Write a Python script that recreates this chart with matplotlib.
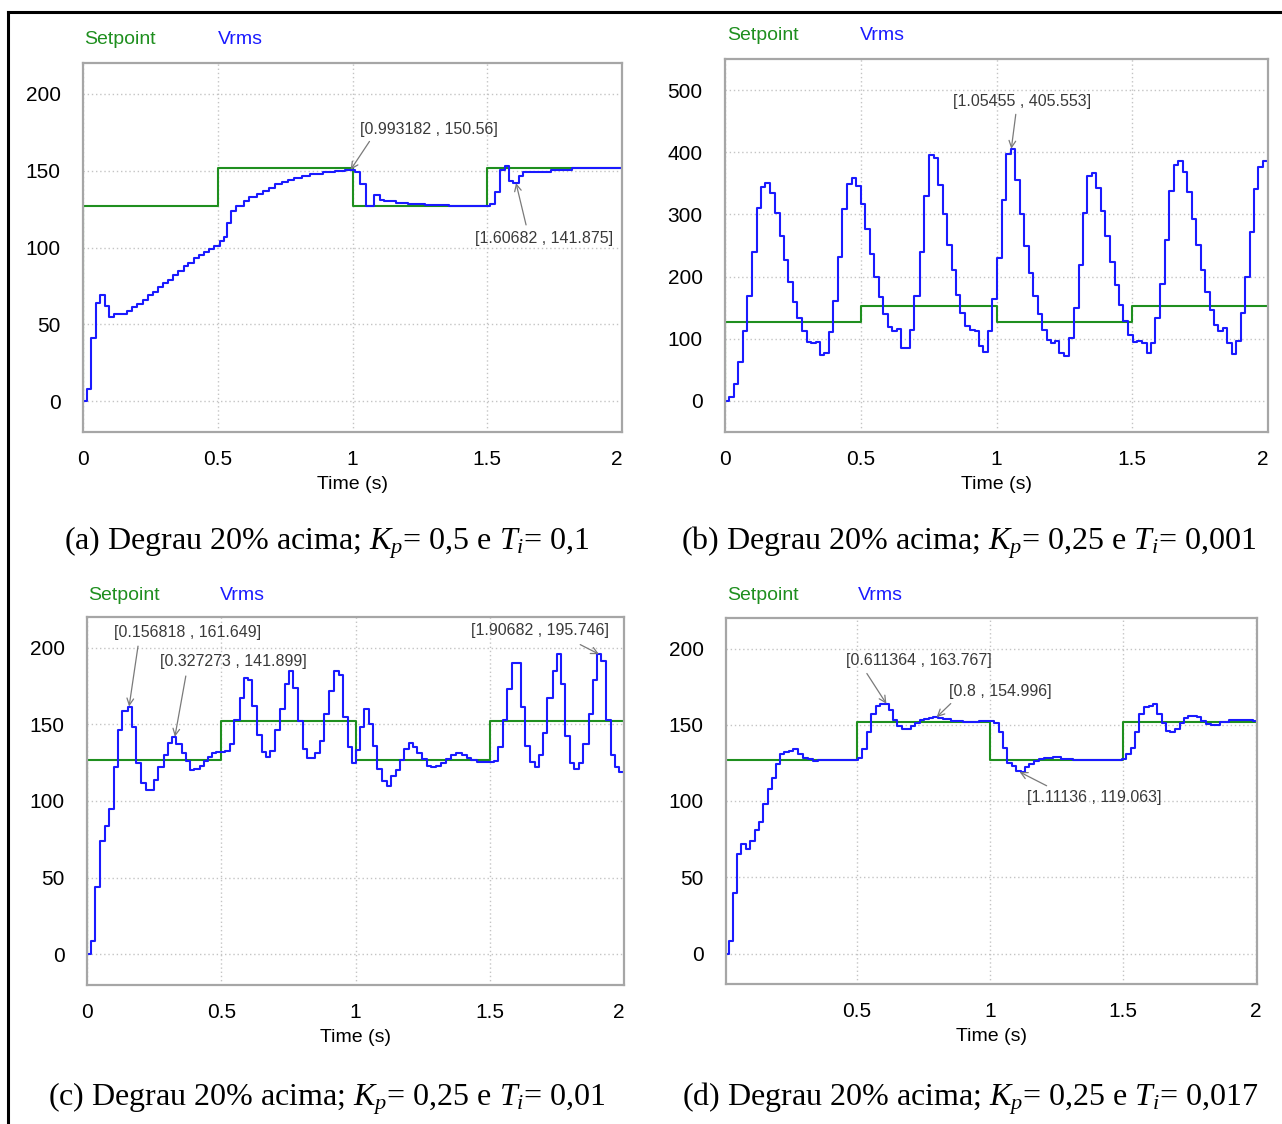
import matplotlib
matplotlib.use("Agg")
import matplotlib.pyplot as plt
from matplotlib.lines import Line2D

plt.rcParams['font.family'] = ['Liberation Sans', 'DejaVu Sans']
plt.rcParams['mathtext.fontset'] = 'custom'
plt.rcParams['mathtext.rm'] = 'Liberation Serif'
plt.rcParams['mathtext.it'] = 'Liberation Serif:italic'

# ---------------- data ----------------
setpoint_t = [0.0, 0.0, 0.5, 1.0, 1.5, 2.0]
setpoint_v = [0, 127, 152, 127, 152, 152]
setpoint_t_d = [0.0, 0.5, 1.0, 1.5, 2.01]
setpoint_v_d = [127, 152, 127, 152, 152]

# (a) Kp=0.5, Ti=0.1
a_t = [0.0, 0.015, 0.030, 0.0485, 0.064, 0.082, 0.097, 0.115, 0.164, 0.183, 0.202, 0.221, 0.240,
       0.259, 0.277, 0.297, 0.315, 0.335, 0.353, 0.373, 0.391, 0.411, 0.429, 0.449, 0.467, 0.487,
       0.509, 0.522, 0.534, 0.549, 0.567, 0.597, 0.616, 0.646, 0.669, 0.691, 0.714, 0.737, 0.760,
       0.782, 0.813, 0.843, 0.889, 0.934, 0.972, 1.010, 1.028, 1.049, 1.080, 1.101, 1.116, 1.161,
       1.207, 1.268, 1.359, 1.510, 1.528, 1.548, 1.566, 1.581, 1.597, 1.616, 1.632, 1.662, 1.738,
       1.813, 1.904, 2.0]
a_v = [0, 8, 41, 64, 69, 62, 55, 57, 59, 61, 63, 66, 69,
       71, 74, 77, 79, 82, 85, 88, 90, 93, 95, 97, 99, 101,
       104, 107, 116, 124, 127, 130, 133, 135, 137, 139, 141, 142.5, 144,
       145.5, 146.5, 148, 148.8, 149.5, 150.5, 149, 141, 127, 134, 131, 130, 129,
       128, 127.8, 127.2, 128, 136, 150.5, 153, 143, 141.9, 146.5, 149, 149.3, 150.5,
       151.5, 152, 152]

# (b) Kp=0.25, Ti=0.001
b_t = [0.0, 0.015, 0.033, 0.048, 0.066, 0.081, 0.101, 0.118, 0.133, 0.148, 0.166, 0.184, 0.202,
       0.217, 0.232, 0.250, 0.265, 0.284, 0.302, 0.317, 0.335, 0.350, 0.365, 0.383, 0.398, 0.416,
       0.431, 0.449, 0.468, 0.483, 0.501, 0.516, 0.534, 0.549, 0.567, 0.582, 0.600, 0.615, 0.633,
       0.649, 0.682, 0.697, 0.718, 0.733, 0.751, 0.769, 0.784, 0.802, 0.817, 0.836, 0.851, 0.866,
       0.884, 0.902, 0.920, 0.935, 0.950, 0.968, 0.983, 1.002, 1.020, 1.035, 1.053, 1.068, 1.086,
       1.101, 1.119, 1.134, 1.152, 1.167, 1.186, 1.201, 1.216, 1.231, 1.249, 1.267, 1.285, 1.303,
       1.318, 1.333, 1.351, 1.367, 1.385, 1.400, 1.418, 1.436, 1.451, 1.466, 1.484, 1.502, 1.517,
       1.535, 1.554, 1.569, 1.584, 1.602, 1.620, 1.635, 1.653, 1.668, 1.686, 1.701, 1.719, 1.735,
       1.753, 1.768, 1.786, 1.801, 1.816, 1.834, 1.849, 1.867, 1.882, 1.900, 1.916, 1.934, 1.949,
       1.964, 1.982, 2.0]
b_v = [0, 7, 28, 63, 112, 169, 239, 310, 344, 350, 335, 302, 265,
       226, 191, 159, 133, 112, 95, 93, 95, 74, 77, 111, 161, 231,
       308, 349, 359, 345, 316, 277, 237, 199, 167, 140, 119, 113, 116,
       85, 114, 169, 240, 329, 395, 391, 348, 300, 250, 210, 171, 141,
       121, 114, 112, 89, 79, 112, 164, 230, 323, 397, 405.5, 355, 301,
       249, 206, 168, 140, 114, 98, 93, 97, 77, 73, 102, 150, 219,
       302, 361, 367, 343, 306, 265, 223, 187, 155, 128, 106, 94, 97,
       93, 77, 93, 133, 188, 259, 337, 379, 386, 368, 336, 293, 250,
       211, 176, 147, 122, 112, 118, 93, 76, 97, 141, 200, 271, 341,
       376, 386, 386]

# (c) Kp=0.25, Ti=0.01
c_t = [0.0, 0.014, 0.030, 0.049, 0.067, 0.082, 0.099, 0.117, 0.132, 0.151, 0.166, 0.184, 0.201,
       0.218, 0.250, 0.266, 0.285, 0.300, 0.315, 0.333, 0.352, 0.368, 0.385, 0.400, 0.419, 0.434,
       0.452, 0.467, 0.482, 0.513, 0.531, 0.549, 0.568, 0.583, 0.598, 0.616, 0.635, 0.650, 0.668,
       0.683, 0.702, 0.720, 0.738, 0.753, 0.769, 0.787, 0.805, 0.820, 0.848, 0.866, 0.884, 0.903,
       0.921, 0.939, 0.954, 0.973, 0.988, 1.003, 1.018, 1.033, 1.049, 1.064, 1.079, 1.097, 1.116,
       1.131, 1.149, 1.164, 1.180, 1.198, 1.213, 1.228, 1.247, 1.265, 1.283, 1.301, 1.320, 1.338,
       1.356, 1.374, 1.396, 1.414, 1.432, 1.451, 1.481, 1.514, 1.530, 1.548, 1.566, 1.584, 1.615,
       1.633, 1.651, 1.670, 1.685, 1.700, 1.715, 1.734, 1.749, 1.764, 1.782, 1.798, 1.813, 1.831,
       1.849, 1.868, 1.883, 1.898, 1.913, 1.932, 1.950, 1.965, 1.982, 2.0]
c_v = [0, 9, 44, 74, 84, 95, 122, 146, 159, 161.6, 148, 125, 112,
       107, 114, 122, 130, 138, 141.9, 137, 131, 126, 120, 121, 123, 126,
       129, 131, 132, 132.6, 137, 153, 167, 180, 179, 162, 143, 132, 129,
       132.6, 146, 160, 176, 185, 174, 152, 134, 128, 131.5, 139, 156.5, 172,
       185, 182, 155, 135, 125, 133, 148, 160, 150, 136, 121, 113, 110,
       116, 120, 127, 134, 137.6, 135, 131, 127.6, 123, 122, 123, 125, 127.6,
       130, 131, 130, 128, 126.5, 125.7, 125.4, 126, 135, 153, 173, 190, 161,
       136, 125.4, 122, 130, 144.6, 167, 185, 196, 176, 142.4, 124.6, 121, 125,
       137.4, 156.5, 179, 195.7, 191, 153, 130, 122, 119, 119]

# (d) Kp=0.25, Ti=0.017
d_t = [0.009, 0.021, 0.037, 0.052, 0.067, 0.083, 0.098, 0.117, 0.132, 0.147, 0.166, 0.181, 0.196,
       0.212, 0.227, 0.245, 0.261, 0.279, 0.298, 0.316, 0.334, 0.356, 0.454, 0.485, 0.503, 0.518,
       0.540, 0.555, 0.571, 0.586, 0.620, 0.635, 0.650, 0.669, 0.702, 0.718, 0.736, 0.752, 0.770,
       0.785, 0.804, 0.822, 0.853, 0.899, 0.960, 1.015, 1.034, 1.049, 1.064, 1.083, 1.098, 1.117,
       1.132, 1.147, 1.166, 1.184, 1.202, 1.236, 1.267, 1.313, 1.405, 1.497, 1.512, 1.528, 1.546,
       1.561, 1.580, 1.598, 1.613, 1.629, 1.647, 1.663, 1.678, 1.696, 1.712, 1.727, 1.745, 1.761,
       1.779, 1.794, 1.813, 1.831, 1.865, 1.896, 1.942, 1.988, 2.01]
d_v = [0, 8, 40, 65, 72, 68.6, 74, 81, 86, 98, 108, 115, 124,
       131, 132, 132.7, 134, 131, 128, 127.5, 126, 126.6, 127, 126.6, 128, 134,
       145, 157, 162, 163.8, 159.5, 153, 149, 147.4, 149, 151, 153, 154, 154.7,
       155, 154.7, 153.6, 152.5, 151.8, 152.5, 151.4, 145, 135, 125, 122.7, 120, 119,
       122, 124.4, 126, 127.7, 128.4, 128.8, 127.3, 126.6, 127, 127.7, 131, 135, 145,
       157, 161.4, 162.5, 163.8, 157, 151, 146, 145, 147, 151, 154.7, 155.5, 156,
       155, 152.5, 150.7, 150, 151.8, 153, 152.9, 152.5, 152.5]

# annotations: (label, point, arrow tail, text centre)
a_ann = [("[0.993182 , 150.56]", (0.993182, 150.56), (1.063, 169), (1.283, 177)),
         ("[1.60682 , 141.875]", (1.60682, 141.875), (1.644, 114.7), (1.71, 106))]
b_ann = [("[1.05455 , 405.553]", (1.05455, 405.553), (1.071, 461), (1.094, 481))]
c_ann = [("[0.156818 , 161.649]", (0.156818, 161.649), (0.19, 201), (0.376, 210)),
         ("[0.327273 , 141.899]", (0.327273, 141.899), (0.368, 181.5), (0.545, 191)),
         ("[1.90682 , 195.746]", (1.90682, 195.746), (1.837, 202), (1.688, 211))]
d_ann = [("[0.611364 , 163.767]", (0.611364, 163.767), (0.538, 183.6), (0.735, 192)),
         ("[0.8 , 154.996]", (0.8, 154.996), (0.853, 163.9), (1.038, 172)),
         ("[1.11136 , 119.063]", (1.11136, 119.063), (1.213, 110), (1.39, 102.5))]

captions = [r"(a) Degrau 20% acima; $K_p$= 0,5 e $T_i$= 0,1",
            r"(b) Degrau 20% acima; $K_p$= 0,25 e $T_i$= 0,001",
            r"(c) Degrau 20% acima; $K_p$= 0,25 e $T_i$= 0,01",
            r"(d) Degrau 20% acima; $K_p$= 0,25 e $T_i$= 0,017"]

# ---------------- drawing ----------------
W, H = 1282, 1124
fig = plt.figure(figsize=(W / 100, H / 100), dpi=100)

GREEN = '#1f8f1f'
BLUE = '#1a1aff'
GRID = '#c4c4c4'
FRAME = '#a6a6a6'


def px_axes(x0, y0, x1, y1):
    return fig.add_axes([x0 / W, 1 - y1 / H, (x1 - x0) / W, (y1 - y0) / H])


def style(ax, xlim, ylim, yticks, xticks, right_last=True):
    ax.set_xlim(*xlim)
    ax.set_ylim(*ylim)
    ax.set_yticks(yticks)
    ax.set_xticks(xticks)
    ax.set_xticklabels([('%g' % v) for v in xticks])
    ax.grid(True, linestyle=(0, (1, 2)), color=GRID, linewidth=1.0)
    ax.set_axisbelow(True)
    for s in ax.spines.values():
        s.set_color(FRAME)
        s.set_linewidth(1.6)
    ax.tick_params(length=0, labelsize=15, pad=16)
    ax.tick_params(axis='x', pad=13)
    ax.set_xlabel("Time (s)", fontsize=14, labelpad=5)
    if right_last:
        labs = ax.get_xticklabels()
        labs[-1].set_ha('right')


def legend(x_set, x_vrms, y):
    fig.text(x_set / W, 1 - y / H, "Setpoint", color=GREEN, fontsize=14, va='center', ha='left')
    fig.text(x_vrms / W, 1 - y / H, "Vrms", color=BLUE, fontsize=14, va='center', ha='left')


def annotate(ax, anns):
    for lab, pt, tail, tc in anns:
        ax.text(tc[0], tc[1], lab, fontsize=11.5, color='#3a3a3a', ha='center', va='center')
        ax.annotate('', xy=pt, xytext=tail,
                    arrowprops=dict(arrowstyle='->', color='#7a7a7a', lw=0.9,
                                    shrinkA=0, shrinkB=0, mutation_scale=12))


# panel a
ax = px_axes(83, 63, 622, 432)
ax.plot(setpoint_t, setpoint_v, drawstyle='steps-post', color=GREEN, lw=1.5)
ax.plot(a_t, a_v, drawstyle='steps-post', color=BLUE, lw=1.5)
style(ax, (0, 2), (-20, 220), [0, 50, 100, 150, 200], [0, 0.5, 1, 1.5, 2])
annotate(ax, a_ann)
legend(84, 218, 40)

# panel b
ax = px_axes(725, 59, 1268, 432)
ax.plot(setpoint_t, setpoint_v, drawstyle='steps-post', color=GREEN, lw=1.5)
ax.plot(b_t, b_v, drawstyle='steps-post', color=BLUE, lw=1.5)
style(ax, (0, 2), (-50, 550), [0, 100, 200, 300, 400, 500], [0, 0.5, 1, 1.5, 2])
annotate(ax, b_ann)
legend(727, 860, 36)

# panel c
ax = px_axes(87, 617, 624, 985)
ax.plot(setpoint_t, setpoint_v, drawstyle='steps-post', color=GREEN, lw=1.5)
ax.plot(c_t, c_v, drawstyle='steps-post', color=BLUE, lw=1.5)
style(ax, (0, 2), (-20, 220), [0, 50, 100, 150, 200], [0, 0.5, 1, 1.5, 2])
annotate(ax, c_ann)
legend(88, 220, 595)

# panel d
ax = px_axes(726, 618, 1257, 984)
ax.plot(setpoint_t_d, setpoint_v_d, drawstyle='steps-post', color=GREEN, lw=1.5)
ax.plot(d_t, d_v, drawstyle='steps-post', color=BLUE, lw=1.5)
style(ax, (0.009, 2.003), (-20, 220), [0, 50, 100, 150, 200], [0.5, 1, 1.5, 2], right_last=False)
annotate(ax, d_ann)
legend(727, 858, 596)

# captions
for txt, (cx, cy) in zip(captions, [(327, 543), (969, 543), (327, 1099), (970, 1099)]):
    fig.text(cx / W, 1 - cy / H, txt, fontsize=23, family='Liberation Serif',
             ha='center', va='center')

# page border (left and top)
fig.add_artist(Line2D([8 / W, 8 / W], [0, 1 - 12 / H], transform=fig.transFigure,
                      color='black', lw=2.2))
fig.add_artist(Line2D([8 / W, 1], [1 - 12 / H, 1 - 12 / H], transform=fig.transFigure,
                      color='black', lw=2.2))

fig.savefig("out.png", dpi=100)
